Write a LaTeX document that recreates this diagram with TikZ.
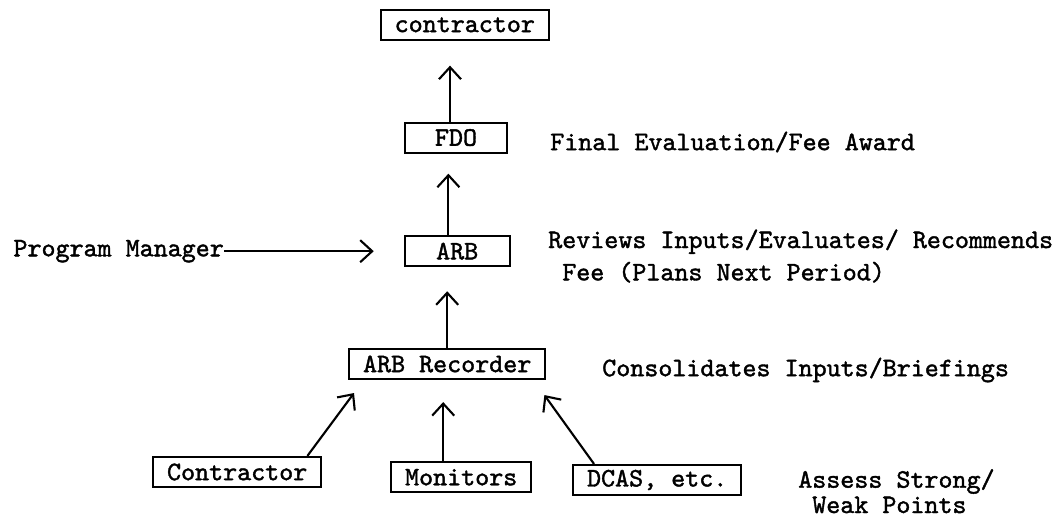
\documentclass[tikz,border=0pt]{standalone}
\usepackage{fontspec}
\newfontfamily\typer{lmmono10-regular.otf}[FakeBold=1.5]
\usepackage{tikz}
\usetikzlibrary{positioning}
\usetikzlibrary{arrows.meta}

\tikzset{
  box/.style={draw, line width=1.5pt, inner xsep=0.35cm, inner ysep=0pt, minimum height=0.75cm},
  arr/.style={line width=1.5pt, -{Straight Barb[length=0.3cm, width=0.55cm, line width=1.5pt]}},
  note/.style={anchor=west, inner sep=0pt, align=left}
}

\begin{document}
\begin{tikzpicture}[font=\typer\fontsize{19}{23}\selectfont]
\useasboundingbox (0,0) rectangle (26.4,-13.025);

% Draw the chain of boxes
\node[box] (top) at (11.62,-0.62) {contractor};
\node[box, minimum width=2.55cm] (fdo) at (11.4,-3.44) {FDO};
\node[box, minimum width=2.62cm] (arb) at (11.43,-6.28) {ARB};
\node[box] (rec) at (11.18,-9.1) {ARB Recorder};

% Draw the inputs
\node[box] (con) at (5.93,-11.8) {Contractor};
\node[box] (mon) at (11.53,-11.93) {Monitors};
\node[box] (dcas) at (16.43,-12.0) {DCAS, etc.};
\node[anchor=west, inner sep=0pt] (pm) at (0.33,-6.28) {Program Manager};

% Draw the arrows
\draw[arr] ([xshift=-0.15cm]fdo.north) -- ([xshift=-0.15cm, yshift=-0.62cm]fdo.north |- top.south);
\draw[arr] ([xshift=-0.22cm]arb.north) -- ([xshift=-0.22cm, yshift=-0.5cm]arb.north |- fdo.south);
\draw[arr] (rec.north) -- ([yshift=-0.6cm]rec.north |- arb.south);
\draw[arr] (pm.east) -- ([xshift=-0.75cm]arb.west);
\draw[arr] ([xshift=-0.375cm]con.north east) -- ([xshift=0.15cm, yshift=-0.325cm]rec.south west);
\draw[arr] ([xshift=-0.45cm]mon.north) -- ([xshift=-0.45cm, yshift=-0.55cm]mon.north |- rec.south);
\draw[arr] ([xshift=0.55cm]dcas.north west) -- ([xshift=-0.05cm, yshift=-0.375cm]rec.south east);

% Draw the notes
\node[note] (fin) at (13.75,-3.55) {Final Evaluation/Fee Award};
\node[note] (rev) at (13.7,-6.4) {Reviews Inputs/Evaluates/ Recommends\\\hspace*{0.525em}Fee (Plans Next Period)};
\node[note] (cons) at (15.05,-9.25) {Consolidates Inputs/Briefings};
\node[note] (ass) at (19.95,-12.28) {Assess Strong/\\[-5pt]\hspace*{0.525em}Weak Points};

\end{tikzpicture}
\end{document}
